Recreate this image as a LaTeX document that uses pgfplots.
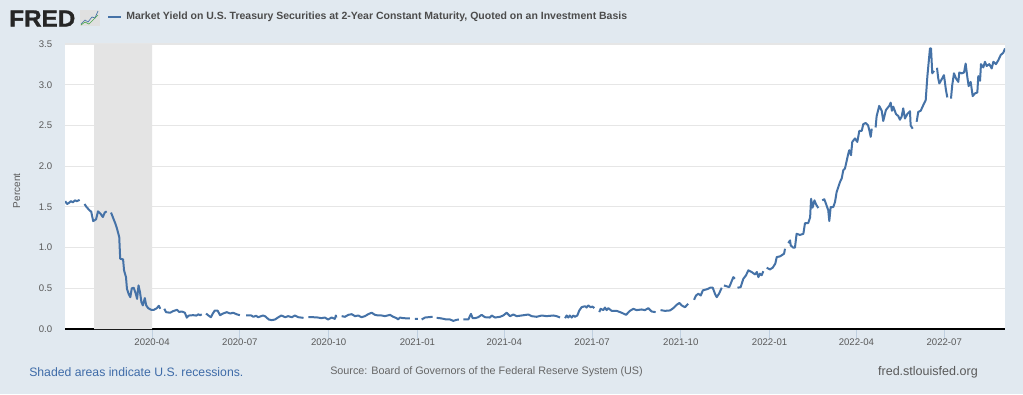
\documentclass[border=0pt]{standalone}
\usepackage{pgfplots}
\usepackage{fontspec}
\setmainfont{Liberation Sans}
\pgfplotsset{compat=1.18}
\definecolor{bgblue}{HTML}{E1E9F0}
\definecolor{fredline}{HTML}{4572A7}
\definecolor{gridc}{HTML}{E6E6E6}
\definecolor{ticklab}{HTML}{595959}
\definecolor{xtickc}{HTML}{C0D0E0}
\definecolor{linkc}{HTML}{3E6BA8}
\begin{document}
\begin{tikzpicture}
\begin{scope}[x=0.75pt,y=-0.75pt]
\fill[bgblue] (0,0) rectangle (1023,394);
\useasboundingbox (0,0) rectangle (1023,394);
% FRED logo
\node[anchor=west,inner sep=0pt,text=black!85] at (9,18.5) {\fontsize{17.5pt}{18pt}\selectfont\bfseries\addfontfeature{FakeStretch=1.04,FakeBold=1.2}FRED};
\fill[black!12] (80,10) rectangle (99.5,26);
\draw[fredline,line width=0.5pt] (81,24) -- (85,20) -- (88,22) -- (92,17) -- (95,18) -- (98,11);
\draw[green!50!black!70,line width=0.5pt] (81,25) -- (85,22) -- (89,24) -- (93,20) -- (98,15);
% legend
\draw[fredline,line width=1.5pt] (108,17) -- (121,17);
\node[anchor=west,inner sep=0pt,text=black!70] at (126,17) {\fontsize{7.87pt}{9pt}\selectfont\bfseries Market Yield on U.S. Treasury Securities at 2-Year Constant Maturity, Quoted on an Investment Basis};
% footer
\node[anchor=west,inner sep=0pt,text=linkc] at (29,372) {\fontsize{9.17pt}{11pt}\selectfont Shaded areas indicate U.S. recessions.};
\node[anchor=west,inner sep=0pt,text=black!60] at (330,372) {\fontsize{8.1pt}{11pt}\selectfont Source: Board of Governors of the Federal Reserve System (US)};
\node[anchor=east,inner sep=0pt,text=black!65] at (978,372) {\fontsize{9.4pt}{11pt}\selectfont fred.stlouisfed.org};
\end{scope}
\begin{axis}[
  at={(48.75pt,-246.75pt)}, anchor=south west,
  scale only axis, width=705pt, height=213.75pt,
  xmin=-90.2, xmax=884, ymin=0, ymax=3.5,
  axis background/.style={fill=white},
  axis x line=bottom, axis y line=left,
  axis line style={-},
  x axis line style={black,line width=1.5pt},
  y axis line style={draw=none},
  xtick={0,91,183,275,365,456,548,640,730,821},
  xticklabels={2020-04,2020-07,2020-10,2021-01,2021-04,2021-07,2021-10,2022-01,2022-04,2022-07},
  ytick={0,0.5,1,1.5,2,2.5,3,3.5},
  yticklabels={0.0,0.5,1.0,1.5,2.0,2.5,3.0,3.5},
  ymajorgrids, grid style={gridc,line width=0.9pt},
  x tick style={xtickc,line width=0.6pt},
  y tick style={draw=none},
  major tick length=7.5pt,
  tick align=outside,
  xtick pos=bottom,
  ticklabel style={font=\fontsize{7.2pt}{9pt}\selectfont,text=ticklab},
  /pgf/number format/assume math mode=true,
  y tick label style={xshift=1.4pt},
  x tick label style={yshift=4pt},
  ylabel={Percent},
  ylabel style={font=\fontsize{7.5pt}{9pt}\selectfont,text=ticklab,at={(axis description cs:0,0.485)},xshift=-0pt,yshift=30pt},
  unbounded coords=jump,
  clip=true,
]
\addplot[fill=black!10.5,draw=none] coordinates {(-60,0) (-60,3.5) (0,3.5) (0,0)} \closedcycle;
\addplot[fredline,line width=1.5pt,line join=round] coordinates {
(-90,1.57)(-88,1.535)(-86,1.55)(-84,1.57)(-82,1.555)(-80,1.58)(-78,1.57)(-75,1.585)
(-72,nan)
(-70,1.535)(-68,1.50)(-65,1.46)(-63,1.44)(-61,1.325)(-58,1.347)(-56,1.445)(-53,1.41)(-51,1.375)(-49,1.43)(-47,1.445)
(-45,nan)
(-42.5,1.43)(-40,1.355)(-38,1.295)(-36.6,1.245)(-34,1.13)(-33,0.863)(-30,0.855)(-29,0.72)(-27,0.637)(-26,0.494)(-24,0.424)(-22.5,0.39)(-21,0.50)(-19,0.507)(-17,0.44)(-15.5,0.37)(-14,0.535)(-12.5,0.453)(-11,0.33)(-9.5,0.29)(-7.5,0.38)(-6,0.29)(-4,0.256)(-1,0.236)(2,0.236)(5,0.256)(7,0.285)(8.6,0.248)
(10.5,nan)
(12.7,0.248)(14.5,0.207)(18.7,0.2)(22,0.22)(26,0.236)(28,0.21)(31,0.215)(34,0.2)(36,0.14)(38,0.165)(42.5,0.17)(46,0.165)(48,0.18)(50,0.17)(51.5,0.18)
(54,nan)
(56,0.19)(58,0.17)(61,0.145)(63,0.19)(65,0.227)(68,0.225)(70.5,0.17)(73.5,0.19)(77.5,0.207)(81,0.19)(84,0.2)(88,0.18)(91,0.17)
(94,nan)
(97.4,0.166)(103,0.166)(105,0.15)(107.8,0.162)(110,0.145)(115,0.166)(117,0.158)(121,0.117)(124,0.109)(127.5,0.117)(131,0.145)(134,0.166)(138,0.145)(141,0.158)(145,0.145)(148,0.166)(151.6,0.145)(157,0.137)
(160,nan)
(162,0.145)(167,0.145)(172,0.141)(175.5,0.133)(179,0.141)(182.5,0.117)(186,0.141)(189.5,0.125)(190.5,0.166)(191,0.141)
(194,nan)
(196.5,0.158)(200,0.15)(203.4,0.174)(207,0.182)(210.3,0.158)(213.8,0.166)(217,0.145)(220.7,0.158)(224,0.182)(227.6,0.2)(231,0.174)(234.5,0.166)(238,0.166)(241.4,0.158)(246.6,0.174)(250,0.15)(253.5,0.133)(255,0.117)(257,0.141)(260.4,0.133)(267.3,0.13)
(270,nan)
(272.5,0.125)(275.5,0.125)
(277,nan)
(279.4,0.117)(283,0.141)(286.3,0.145)(290.8,0.15)
(293,nan)
(295,0.137)(298.4,0.133)(302,0.125)(305,0.117)(308.8,0.117)(312.2,0.1)(315.7,0.113)(318,0.117)
(320,nan)
(322.6,0.117)(327.8,0.117)(330.5,0.186)(332.3,0.133)(334.7,0.133)(338,0.145)(341.6,0.174)(345,0.145)(350.2,0.141)(352,0.166)(355.4,0.141)(360.6,0.15)(364,0.166)(367.5,0.2)(371,0.158)(374.4,0.178)(378,0.158)(383,0.166)(390,0.178)(393.4,0.158)(398.6,0.15)(403.8,0.166)(409,0.158)(415.9,0.166)(419.3,0.158)(422.8,0.141)
(425.5,nan)
(428,0.133)(429.7,0.166)(431.4,0.141)(433,0.166)(434.9,0.141)(436.6,0.166)(438.3,0.15)(440.7,0.166)(442.8,0.227)(445.2,0.268)(448.7,0.28)(450.4,0.264)(452.1,0.29)(454.5,0.268)(456.6,0.276)(458.3,0.256)
(461,nan)
(463.5,0.207)(464.9,0.248)(467.7,0.232)(469.4,0.264)(471.1,0.232)(472.8,0.256)(476.3,0.223)(481.5,0.223)(486.7,0.2)(491.2,0.174)(495.3,0.223)(498.8,0.248)(502.2,0.232)(507.4,0.24)(510.8,0.232)(514.3,0.256)(517.8,0.215)(521.9,0.207)
(524.5,nan)
(527,0.232)(531.6,0.223)(536.8,0.228)(540.2,0.256)(543.7,0.297)(546.5,0.32)(549,0.289)(552.3,0.268)(555.7,0.31)
(559,nan)
(561.7,0.359)(563.8,0.412)(566.2,0.433)(568.7,0.412)(570.8,0.474)(573.1,0.482)(575.5,0.49)(578.3,0.507)(581.1,0.507)(583.4,0.433)(585.2,0.391)(587.6,0.433)(590.4,0.507)
(591.5,nan)
(592.7,0.535)(598.2,0.514)(602.4,0.637)(604,0.617)
(605.5,nan)
(606.7,0.507)(610,0.514)(612.8,0.617)(615.5,0.658)(618,0.72)(621.5,0.699)(625,0.67)(626.8,0.7)(628.4,0.637)(630,0.68)(631.8,0.66)(633.5,0.71)
(635.5,nan)
(637,0.753)(640.4,0.732)(643.2,0.753)(645.9,0.802)(647.4,0.883)(650.8,0.892)(655,0.925)(656,0.986)
(657.5,nan)
(659.4,1.055)(661.2,1.088)(661.9,1.027)(664.5,0.999)(666.3,0.999)(668,1.17)(671.5,1.155)(675,1.17)(676.7,1.30)(680,1.30)(682,1.37)(683,1.6)(684.5,1.49)(686.5,1.58)(688.2,1.53)(690.5,1.486)
(692.5,nan)
(694.6,1.58)(696.7,1.593)(698.4,1.54)(700.8,1.458)(701.9,1.326)(703.3,1.498)(706,1.498)(707.8,1.56)(709.5,1.683)(713,1.806)(714.7,1.847)(716.4,1.95)(718.1,1.97)(721.6,2.155)(722.6,2.196)(724.4,2.134)(725.7,2.298)(728.5,2.34)(730.9,2.298)(733,2.433)(735.5,2.433)(737.1,2.515)(739.6,2.53)(742,2.503)(743.4,2.44)(744.8,2.36)(745.9,2.46)
(748,nan)
(749.9,2.475)(750.9,2.61)(753.6,2.74)(756.2,2.68)(757.8,2.555)(760.6,2.69)(764,2.74)(765.5,2.78)(766.8,2.68)(768.2,2.73)(771,2.64)(773.4,2.615)(775.1,2.57)(776.9,2.61)(778.5,2.71)(780.3,2.585)(782.7,2.64)(785.5,2.675)(786.2,2.5)(788.3,2.46)
(790,nan)
(792.4,2.545)(794.1,2.667)(796.6,2.68)(799.3,2.75)(801.8,2.81)(803.5,3.1)(806.2,3.446)(807.3,3.446)(808.6,3.14)(810.4,3.17)
(812,nan)
(813.5,3.208)(814.8,3.077)(815.9,3.016)(818.3,3.065)(820.7,3.118)(822.8,2.934)(824.2,2.844)
(826,nan)
(828,2.83)(829.3,2.995)(831.1,3.14)(833.2,3.077)(835.6,3.035)(836.6,3.15)(839.1,3.14)(841.5,3.15)(843.2,3.26)(844.9,3.097)(846.3,2.983)(848.4,3.035)(850.5,2.86)(852.8,2.893)(855.3,2.905)(856.3,3.106)(858.1,3.048)(859.1,3.253)(861.5,3.213)(863.2,3.282)(865,3.23)(867.7,3.253)(870.2,3.2)(871.9,3.282)(874.6,3.253)(877,3.3)(879.5,3.364)(882.2,3.393)(884,3.446)
};
\end{axis}
\end{tikzpicture}
\end{document}
